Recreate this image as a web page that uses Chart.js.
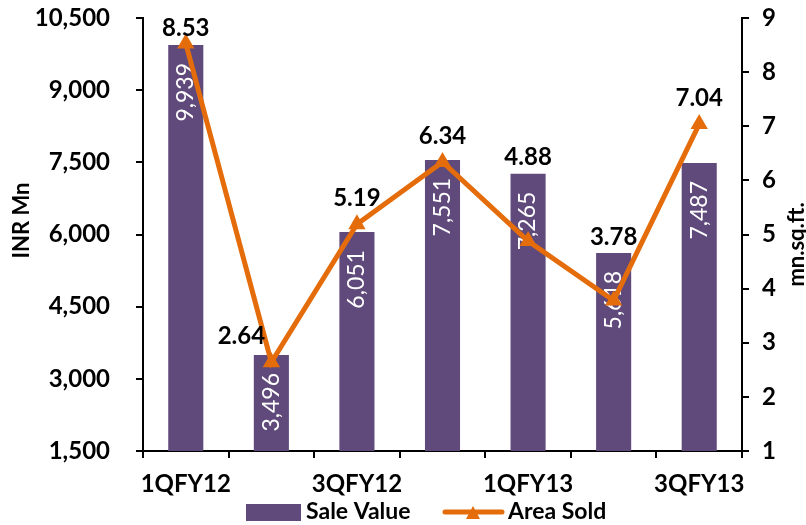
<!DOCTYPE html>
<html>
<head>
<meta charset="utf-8">
<script src="https://cdn.jsdelivr.net/npm/chart.js@4.4.0/dist/chart.umd.min.js"></script>
<style>
html, body { margin: 0; padding: 0; background: #fff; }
#contenedor { position: relative; width: 806px; height: 525px; }
</style>
</head>
<body>
<div id="contenedor"><canvas id="miGrafico"></canvas></div>
<script>
const trimestres = ['1QFY12', '2QFY12', '3QFY12', '4QFY12', '1QFY13', '2QFY13', '3QFY13'];
const valorVenta = [9939, 3496, 6051, 7551, 7265, 5618, 7487];
const areaVendida = [8.53, 2.64, 5.19, 6.34, 4.88, 3.78, 7.04];
const ticksIzquierda = [1500, 3000, 4500, 6000, 7500, 9000, 10500];
const ticksDerecha = [1, 2, 3, 4, 5, 6, 7, 8, 9];

const MORADO = '#604A7B';
const NARANJA = '#E46C0A';
const FUENTE = 'Lato, "Open Sans", sans-serif';

Chart.defaults.font.family = FUENTE;
Chart.defaults.font.weight = 'bold';
Chart.defaults.font.size = 24;
Chart.defaults.color = '#000';

// la etiqueta del punto bajo se corre a la izquierda para no tapar la linea
const corrimientoEtiqueta = { 1: -30 };

// etiquetas de valores, titulos de ejes y leyenda
const extras = {
    id: 'extras',
    afterDatasetDraw(chart, args) {
        if (args.index !== 0) return;
        const ctx = chart.ctx;
        ctx.save();
        ctx.fillStyle = '#fff';
        ctx.font = 'normal 23px ' + FUENTE;
        ctx.textAlign = 'right';
        ctx.textBaseline = 'middle';
        args.meta.data.forEach((barra, i) => {
            ctx.save();
            ctx.translate(barra.x, barra.y + 18);
            ctx.rotate(-Math.PI / 2);
            ctx.fillText(valorVenta[i].toLocaleString('en-US'), 0, 0);
            ctx.restore();
        });
        ctx.restore();
    },
    afterDatasetsDraw(chart) {
        const ctx = chart.ctx;
        const barras = chart.getDatasetMeta(0).data;
        const puntos = chart.getDatasetMeta(1).data;
        ctx.save();
        ctx.fillStyle = '#000';
        ctx.font = 'bold 24px ' + FUENTE;
        ctx.textAlign = 'center';
        ctx.textBaseline = 'middle';
        puntos.forEach((p, i) => {
            const arriba = Math.min(p.y - 10, barras[i].y);
            const y = Math.max(arriba - 16, 28);
            ctx.fillText(areaVendida[i].toFixed(2), p.x + (corrimientoEtiqueta[i] || 0), y);
        });
        ctx.restore();
    },
    afterDraw(chart) {
        const ctx = chart.ctx;
        const area = chart.chartArea;
        const medio = (area.top + area.bottom) / 2;
        ctx.save();
        ctx.fillStyle = '#000';
        ctx.font = 'bold 22px ' + FUENTE;
        ctx.textAlign = 'center';
        ctx.textBaseline = 'middle';

        ctx.save();
        ctx.translate(22, medio - 14);
        ctx.rotate(-Math.PI / 2);
        ctx.fillText('INR Mn', 0, 0);
        ctx.restore();

        ctx.save();
        ctx.translate(797, medio + 10);
        ctx.rotate(-Math.PI / 2);
        ctx.fillText('mn.sq.ft.', 0, 0);
        ctx.restore();

        // leyenda
        const yl = 512;
        ctx.font = 'bold 23px ' + FUENTE;
        ctx.textAlign = 'left';
        ctx.fillStyle = MORADO;
        ctx.fillRect(246, yl - 8, 55, 17);
        ctx.fillStyle = '#000';
        ctx.fillText(chart.data.datasets[0].label, 306, yl);

        ctx.strokeStyle = NARANJA;
        ctx.lineWidth = 5;
        ctx.lineCap = 'round';
        ctx.beginPath();
        ctx.moveTo(445, yl);
        ctx.lineTo(502, yl);
        ctx.stroke();
        ctx.fillStyle = NARANJA;
        ctx.beginPath();
        ctx.moveTo(473, yl - 6);
        ctx.lineTo(480, yl + 7);
        ctx.lineTo(466, yl + 7);
        ctx.closePath();
        ctx.fill();
        ctx.fillStyle = '#000';
        ctx.fillText(chart.data.datasets[1].label, 508, yl);
        ctx.restore();
    }
};

// ancho fijo del eje y sin margen extra arriba/abajo
function fijarEje(ancho) {
    return (s) => {
        s.width = ancho;
        s.paddingTop = 0;
        s.paddingBottom = 0;
    };
}

const ctx = document.getElementById('miGrafico').getContext('2d');

new Chart(ctx, {
    type: 'bar',
    data: {
        labels: trimestres,
        datasets: [
            {
                type: 'bar',
                label: 'Sale Value',
                data: valorVenta,
                backgroundColor: MORADO,
                borderWidth: 0,
                categoryPercentage: 1,
                barPercentage: 0.41,
                yAxisID: 'y',
                order: 2
            },
            {
                type: 'line',
                label: 'Area Sold',
                data: areaVendida,
                borderColor: NARANJA,
                backgroundColor: NARANJA,
                borderWidth: 5,
                pointStyle: 'triangle',
                pointRadius: 10,
                pointBorderWidth: 0,
                tension: 0,
                yAxisID: 'y1',
                order: 1
            }
        ]
    },
    options: {
        responsive: true,
        maintainAspectRatio: false,
        animation: false,
        layout: { padding: { top: 18, left: 0, right: 0, bottom: 24 } },
        plugins: {
            legend: { display: false },
            tooltip: { enabled: false }
        },
        scales: {
            x: {
                grid: { drawOnChartArea: false, offset: true, color: '#000', lineWidth: 2, tickLength: 7 },
                border: { color: '#000', width: 2 },
                ticks: {
                    autoSkip: false,
                    maxRotation: 0,
                    padding: 12,
                    callback: (v, i) => (i % 2 === 0 ? trimestres[i] : '')
                },
                afterFit: (s) => { s.height = 50; }
            },
            y: {
                position: 'left',
                min: 1500,
                max: 10500,
                grid: { drawOnChartArea: false, color: '#000', lineWidth: 2, tickLength: 7 },
                border: { color: '#000', width: 2 },
                ticks: {
                    padding: 26,
                    callback: (v) => v.toLocaleString('en-US')
                },
                afterBuildTicks: (s) => { s.ticks = ticksIzquierda.map(v => ({ value: v })); },
                afterFit: fijarEje(143)
            },
            y1: {
                position: 'right',
                min: 1,
                max: 9,
                grid: { drawOnChartArea: false, color: '#000', lineWidth: 2, tickLength: 7 },
                border: { color: '#000', width: 2 },
                ticks: { padding: 13 },
                afterBuildTicks: (s) => { s.ticks = ticksDerecha.map(v => ({ value: v })); },
                afterFit: fijarEje(64)
            }
        }
    },
    plugins: [extras]
});
</script>
</body>
</html>
